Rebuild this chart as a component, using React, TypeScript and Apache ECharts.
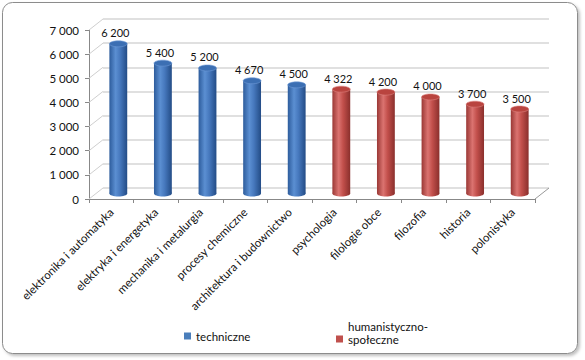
import React, { useEffect, useRef } from "react";
import * as echarts from "echarts";

const categories = [
  "elektronika i automatyka",
  "elektryka i energetyka",
  "mechanika i metalurgia",
  "procesy chemiczne",
  "architektura i budownictwo",
  "psychologia",
  "filologie obce",
  "filozofia",
  "historia",
  "polonistyka",
];
const values = [6200, 5400, 5200, 4670, 4500, 4322, 4200, 4000, 3700, 3500];
const groupOf = [
  "techniczne",
  "techniczne",
  "techniczne",
  "techniczne",
  "techniczne",
  "humanistyczno-społeczne",
  "humanistyczno-społeczne",
  "humanistyczno-społeczne",
  "humanistyczno-społeczne",
  "humanistyczno-społeczne",
];
const seriesNames = ["techniczne", "humanistyczno-społeczne"];
const yTicks = [0, 1000, 2000, 3000, 4000, 5000, 6000, 7000];

const FONT = "Lato, 'Liberation Sans', sans-serif";
const DX = 14;
const DY = 11;

const fmt = (v: number) => String(v).replace(/\B(?=(\d{3})+(?!\d))/g, " ");

const palettes = [
  {
    legend: "#4a7ebb",
    body: ["#2d5c9c", "#5b8fd2", "#4678bd", "#234c86"],
    top: "#3c6fb3",
    rim: "#6f9bd6",
  },
  {
    legend: "#c0504d",
    body: ["#9a3835", "#db7370", "#c24f4b", "#8a2f2c"],
    top: "#b9443f",
    rim: "#de8380",
  },
];

export default function App() {
  const ref = useRef<HTMLDivElement>(null);
  useEffect(() => {
    if (!ref.current) return;
    const chart = echarts.init(ref.current, null, { renderer: "svg" });

    const barSeries = seriesNames.map((name, si) => {
      const pal = palettes[si];
      const data: any[] = [];
      categories.forEach((c, i) => {
        if (groupOf[i] === name) data.push([i, values[i]]);
      });
      return {
        type: "custom",
        name,
        xAxisIndex: 0,
        yAxisIndex: 0,
        itemStyle: { color: pal.legend },
        encode: { x: 0, y: 1 },
        data,
        z: 5,
        renderItem: (params: any, api: any) => {
          const idx = api.value(0);
          const v = api.value(1);
          const top = api.coord([idx, v]);
          const base = api.coord([idx, 0]);
          const bw = api.size([1, 0])[0] * 0.4;
          const rx = bw / 2;
          const ry = 3;
          const cx = top[0] + DX / 2;
          const ty = top[1] - DY / 2;
          const by = base[1] - DY / 2;
          const grad = new echarts.graphic.LinearGradient(0, 0, 1, 0, [
            { offset: 0, color: pal.body[0] },
            { offset: 0.35, color: pal.body[1] },
            { offset: 0.6, color: pal.body[2] },
            { offset: 1, color: pal.body[3] },
          ]);
          return {
            type: "group",
            children: [
              {
                type: "ellipse",
                shape: { cx, cy: by, rx, ry },
                style: { fill: grad },
              },
              {
                type: "rect",
                shape: { x: cx - rx, y: ty, width: bw, height: by - ty },
                style: { fill: grad },
              },
              {
                type: "ellipse",
                shape: { cx, cy: ty, rx, ry },
                style: { fill: pal.top, stroke: pal.rim, lineWidth: 0.6 },
              },
              {
                type: "text",
                x: cx - 3,
                y: ty - 11,
                style: {
                  text: fmt(v),
                  textAlign: "center",
                  textVerticalAlign: "middle",
                  fontFamily: FONT,
                  fontSize: 11,
                  fill: "#111",
                },
              },
            ],
          };
        },
      };
    });

    const diagData: any[] = yTicks.map((v) => [0, v, 0]);
    diagData.push([0, 0, 1]);

    const option: any = {
      animation: false,
      backgroundColor: "#ffffff",
      graphic: [
        {
          type: "rect",
          z: -10,
          silent: true,
          shape: { x: 2.5, y: 2.5, width: 575, height: 351, r: 10 },
          style: {
            fill: "#ffffff",
            stroke: "#8c8c8c",
            lineWidth: 1,
            shadowBlur: 3,
            shadowOffsetX: 2,
            shadowOffsetY: 2,
            shadowColor: "rgba(0,0,0,0.25)",
          },
        },
      ],
      grid: [
        { left: 89, right: 50, top: 30, bottom: 161, outerBoundsMode: "none" },
        { left: 89 + DX, right: 50 - DX, top: 30 - DY, bottom: 161 + DY, outerBoundsMode: "none" },
      ],
      xAxis: [
        {
          type: "category",
          gridIndex: 0,
          data: categories,
          axisLine: { lineStyle: { color: "#888", width: 1 } },
          axisTick: { show: true, length: 4, lineStyle: { color: "#888" } },
          axisLabel: {
            rotate: 45,
            margin: 11,
            interval: 0,
            fontFamily: FONT,
            fontSize: 11.5,
            color: "#111",
          },
          splitLine: { show: false },
        },
        {
          type: "category",
          gridIndex: 1,
          data: categories,
          show: false,
        },
      ],
      yAxis: [
        {
          type: "value",
          gridIndex: 0,
          min: 0,
          max: 7000,
          interval: 1000,
          axisLine: { show: true, lineStyle: { color: "#888", width: 1 } },
          axisTick: { show: true, length: 4, lineStyle: { color: "#888" } },
          axisLabel: {
            margin: 10,
            fontFamily: FONT,
            fontSize: 11.5,
            color: "#111",
            formatter: (v: number) => fmt(v),
          },
          splitLine: { show: false },
        },
        {
          type: "value",
          gridIndex: 1,
          min: 0,
          max: 7000,
          interval: 1000,
          axisLine: { show: false },
          axisTick: { show: false },
          axisLabel: { show: false },
          splitLine: { show: true, lineStyle: { color: "#d6d6d6", width: 1.5 } },
        },
      ],
      legend: [
        {
          data: ["techniczne"],
          left: 184,
          top: 330,
          padding: 0,
          itemWidth: 7,
          itemHeight: 7,
          icon: "rect",
          selectedMode: false,
          textStyle: { fontFamily: FONT, fontSize: 11.5, color: "#111" },
        },
        {
          data: ["humanistyczno-społeczne"],
          left: 336,
          top: 320,
          padding: 0,
          itemWidth: 7,
          itemHeight: 26,
          icon: "path://M0,0h0.05v0.05h-0.05z M0,15.5h7v7h-7z M0,25.95h0.05v0.05h-0.05z",
          selectedMode: false,
          formatter: () => "humanistyczno-\nspołeczne",
          textStyle: {
            fontFamily: FONT,
            fontSize: 11.5,
            lineHeight: 13,
            color: "#111",
          },
        },
      ],
      series: [
        {
          type: "custom",
          name: "diag",
          silent: true,
          xAxisIndex: 0,
          yAxisIndex: 0,
          data: diagData,
          z: 1,
          renderItem: (params: any, api: any) => {
            const v = api.value(1);
            const side = api.value(2);
            const p = api.coord([0, v]);
            const x0 = side === 1 ? params.coordSys.x + params.coordSys.width : params.coordSys.x;
            return {
              type: "line",
              shape: { x1: x0, y1: p[1], x2: x0 + DX, y2: p[1] - DY },
              style: { stroke: side === 1 ? "#999" : "#cfcfcf", lineWidth: 1 },
            };
          },
        },
        ...barSeries,
      ],
    };
    chart.setOption(option);
    return () => chart.dispose();
  }, []);
  return (
    <div
      ref={ref}
      style={{ position: "absolute", left: 0, top: 0, width: 585, height: 360 }}
    />
  );
}
